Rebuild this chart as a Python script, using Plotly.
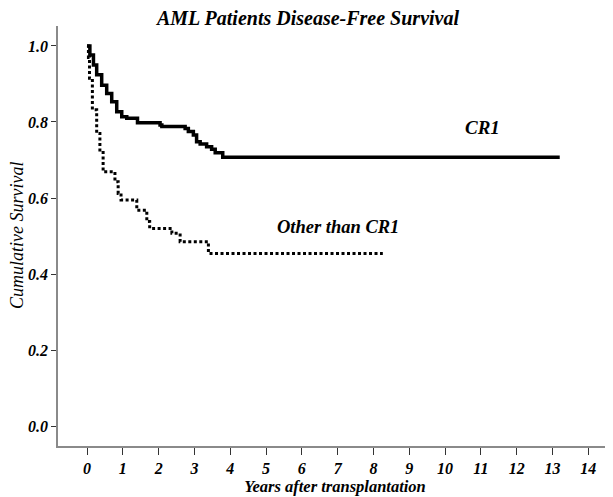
import plotly.graph_objects as go

# Kaplan-Meier step data (time in years, cumulative survival after event)
cr1_time = [0.0, 0.04, 0.08, 0.18, 0.27, 0.41, 0.55, 0.69, 0.83, 0.97, 1.11, 1.41, 2.04, 2.09,
            2.74, 2.83, 2.97, 3.06, 3.16, 3.34, 3.48, 3.58, 3.79, 13.2]
cr1_surv = [1.0, 1.0, 0.976, 0.95, 0.924, 0.897, 0.875, 0.853, 0.827, 0.814, 0.81, 0.798, 0.792, 0.788,
            0.783, 0.775, 0.766, 0.748, 0.742, 0.735, 0.728, 0.719, 0.707, 0.707]

other_time = [0.0, 0.04, 0.07, 0.15, 0.27, 0.36, 0.45, 0.78, 0.87, 0.95, 1.39, 1.67, 1.75,
              2.37, 2.6, 3.39, 8.26]
other_surv = [1.0, 0.97, 0.915, 0.832, 0.77, 0.726, 0.669, 0.643, 0.612, 0.595, 0.568, 0.538, 0.52,
              0.507, 0.485, 0.454, 0.454]

x_ticks = list(range(0, 15))
y_ticks = [0.0, 0.2, 0.4, 0.6, 0.8, 1.0]

title_text = "AML Patients Disease-Free Survival"
x_title = "Years after transplantation"
y_title = "Cumulative Survival"
label_cr1 = "CR1"
label_other = "Other than CR1"

serif = "Liberation Serif, Times New Roman, serif"

fig = go.Figure()
fig.add_trace(go.Scatter(x=cr1_time, y=cr1_surv, mode="lines", line_shape="hv",
                         line=dict(color="black", width=3.5), name=label_cr1, showlegend=False))
fig.add_trace(go.Scatter(x=other_time, y=other_surv, mode="lines", line_shape="hv",
                         line=dict(color="black", width=3, dash="3px,2.5px"), name=label_other,
                         showlegend=False))

fig.add_annotation(x=11.05, y=0.785, text=label_cr1, showarrow=False,
                   font=dict(family=serif, size=19, weight="bold", style="italic", color="black"))
fig.add_annotation(x=7.0, y=0.525, text=label_other, showarrow=False,
                   font=dict(family=serif, size=18.5, weight="bold", style="italic", color="black"))
# y-axis title
fig.add_annotation(x=0, xref="paper", xanchor="center", xshift=-41, y=0.5, yref="paper",
                   yanchor="middle", text=y_title, textangle=-90, showarrow=False,
                   font=dict(family=serif, size=18, style="italic", color="black"))

fig.update_layout(
    width=605, height=489,
    margin=dict(l=50, r=1, t=18, b=51, autoexpand=False),
    paper_bgcolor="white", plot_bgcolor="white",
    title=dict(text=title_text, x=300 / 605, xref="container", y=1 - 10 / 489, yref="container",
               xanchor="center", yanchor="middle", automargin=False,
               font=dict(family=serif, size=20, weight="bold", style="italic", color="black")),
    xaxis=dict(range=[-0.81, 14.66], tickvals=x_ticks, ticktext=[str(v) for v in x_ticks],
               automargin=False,
               showgrid=False, zeroline=False, showline=True, linecolor="#8a8a8a", linewidth=1.5,
               ticks="outside", ticklen=7, tickcolor="#333", tickwidth=1,
               tickfont=dict(family=serif, size=16, weight="bold", style="italic", color="black"),
               title=dict(text=x_title, standoff=4,
                          font=dict(family=serif, size=16.5, weight="bold", style="italic", color="black"))),
    yaxis=dict(range=[-0.0526, 1.0526], tickvals=y_ticks, tickformat=".1f",
               automargin=False,
               showgrid=False, zeroline=False, showline=True, linecolor="#8a8a8a", linewidth=1.5,
               ticks="outside", ticklen=5, tickcolor="#333", tickwidth=1,
               tickfont=dict(family=serif, size=16, weight="bold", style="italic", color="black")),
)

fig.write_html("out.html")
